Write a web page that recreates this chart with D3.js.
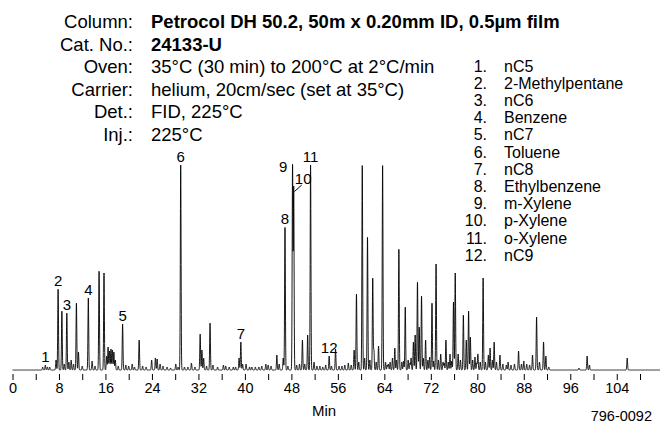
<!DOCTYPE html>
<html>
<head>
<meta charset="utf-8">
<script src="https://cdn.jsdelivr.net/npm/d3@7/dist/d3.min.js"></script>
<style>
  html, body { margin: 0; padding: 0; background: #fff; }
  svg { display: block; font-family: "Liberation Sans", Arial, Helvetica, sans-serif; }
</style>
</head>
<body>
<svg id="chart" width="660" height="424"></svg>
<script>
// ---------- DATA ----------
const headerLabels = ["Column:", "Cat. No.:", "Oven:", "Carrier:", "Det.:", "Inj.:"];
const headerValues = [
  "Petrocol DH 50.2, 50m x 0.20mm ID, 0.5\u00b5m film",
  "24133-U",
  "35\u00b0C (30 min) to 200\u00b0C at 2\u00b0C/min",
  "helium, 20cm/sec (set at 35\u00b0C)",
  "FID, 225\u00b0C",
  "225\u00b0C"
];
const headerBold = [true, true, false, false, false, false];

const legendNums = ["1.", "2.", "3.", "4.", "5.", "6.", "7.", "8.", "9.", "10.", "11.", "12."];
const legendNames = ["nC5", "2-Methylpentane", "nC6", "Benzene", "nC7", "Toluene", "nC8",
  "Ethylbenzene", "m-Xylene", "p-Xylene", "o-Xylene", "nC9"];

// retention times (min) and responses of every peak
const peakTimes = [
  5.2, 5.65, 6.0, 6.4, 7.5, 7.85, 8.5, 8.9, 9.35, 9.7, 10.1, 10.5, 11.0, 11.35, 12.0,
  13.05, 13.7, 14.2, 14.9, 15.75, 16.2, 16.45, 16.7, 16.95, 17.2, 17.45, 17.7,
  18.2, 18.95,
  19.5, 20.0, 20.6, 21.0, 21.8, 22.4, 23.0, 23.95, 24.6, 24.9, 25.4, 25.9, 26.6, 27.2,
  28.1, 28.5, 28.95, 29.6, 30.2, 30.8, 31.4, 32.3, 32.6, 32.9, 33.4, 34.0, 34.5, 35.3,
  36.3, 36.7, 37.3, 38.0, 38.4, 39.0, 39.3, 39.6, 40.2, 40.8, 41.2, 41.8, 42.4, 42.9,
  43.6, 44.0, 44.5, 45.5, 45.9, 46.6, 46.9, 47.4, 48.2, 48.4, 48.9, 49.4, 49.9, 50.3,
  50.8, 51.3, 51.9, 52.4, 52.9, 53.4, 53.9, 54.5, 54.9, 55.6, 56.2, 56.7, 57.2, 57.8,
  58.3, 58.8, 59.2, 59.6, 60.2, 60.6, 61.1, 61.5, 62.0, 62.2, 62.6, 63.0, 63.7, 64.2,
  64.5, 64.7, 65.0, 65.4, 65.8, 66.1, 66.5, 67.0, 67.3, 67.6, 68.1, 68.4, 68.6, 69.0,
  69.3, 69.7, 70.0, 70.4, 70.7, 71.1, 71.5, 71.8, 72.2, 72.5, 72.9, 73.3, 73.7, 74.1,
  74.3, 74.6, 75.0, 75.3, 75.6, 75.9, 76.2, 76.7, 77.1, 77.6, 78.1, 78.5, 78.8, 79.2,
  79.6, 79.9, 80.1, 80.5, 81.0, 81.4, 81.9, 82.2, 82.6, 82.9, 83.3, 83.9, 84.4, 85.0,
  85.3, 85.8, 86.4, 87.1, 87.6, 88.0, 88.5, 89.0, 89.5, 90.2, 90.7, 91.4, 91.8, 92.3,
  97.5, 98.9, 99.3, 105.8
];
const peakHeights = [
  3, 5, 3, 3, 10, 81, 59, 6, 57, 8, 10, 6, 67, 18, 4,
  72, 9, 4, 99, 97, 14, 23, 19, 21, 20, 18, 10,
  4, 46,
  5, 4, 6, 3, 30, 4, 3, 10, 12, 11, 6, 4, 3, 2,
  6, 3, 205, 3, 3, 7, 3, 36, 20, 12, 4, 47, 5, 3,
  5, 4, 3, 3, 3, 12, 28, 6, 6, 3, 3, 3, 3, 4,
  6, 5, 4, 15, 6, 12, 143, 4, 205, 183, 5, 6, 30, 6,
  35, 205, 8, 4, 4, 3, 5, 14, 4, 21, 4, 4, 5, 7,
  5, 20, 76, 8, 205, 12, 133, 10, 92, 20, 8, 24, 205, 8,
  5, 6, 8, 12, 22, 10, 121, 8, 9, 63, 10, 7, 12, 28,
  35, 88, 43, 74, 12, 30, 10, 13, 67, 9, 106, 10, 16, 8,
  7, 30, 8, 16, 9, 68, 97, 16, 10, 55, 30, 59, 33, 10,
  13, 7, 16, 8, 92, 8, 15, 22, 10, 28, 8, 15, 6, 5,
  8, 5, 6, 19, 6, 9, 6, 5, 15, 53, 8, 28, 14, 3,
  2, 14, 5, 12
];

// labelled compounds: label, retention time, response
const labelTexts = ["1", "2", "3", "4", "5", "6", "7", "8", "9", "10", "11", "12"];
const labelTimes = [5.65, 7.85, 9.35, 13.05, 18.95, 28.95, 39.3, 46.9, 48.2, 48.4, 51.3, 54.5];
const labelHeights = [5, 81, 57, 72, 46, 205, 28, 143, 205, 183, 205, 14];

const xTickValues = d3.range(0, 109, 4);
const xTitle = "Min";
const figureCode = "796-0092";

// ---------- LAYOUT ----------
const svg = d3.select("#chart");
const x = d3.scaleLinear().domain([0, 108]).range([12.5, 640]);
const y = d3.scaleLinear().domain([0, 205]).range([370, 165]);

// header block
const header = svg.append("g").style("font-size", "18.5px").attr("fill", "#000");
headerLabels.forEach((lab, i) => {
  const yy = 28 + i * 22.5;
  header.append("text").attr("x", 133).attr("y", yy).attr("text-anchor", "end").text(lab);
  header.append("text").attr("x", 151).attr("y", yy)
    .style("font-weight", headerBold[i] ? "bold" : "normal").text(headerValues[i]);
});

// legend
const legend = svg.append("g").style("font-size", "16px").attr("fill", "#000");
legendNums.forEach((n, i) => {
  const yy = 71.5 + i * 17.2;
  legend.append("text").attr("x", 487).attr("y", yy).attr("text-anchor", "end").text(n);
  legend.append("text").attr("x", 504).attr("y", yy).text(legendNames[i]);
});

// chromatogram trace built from the peak table
const sigma = 0.065;
const tEnd = x.invert(660);
const samples = d3.range(0, tEnd, 0.015).map(t => {
  let s = 0;
  for (let k = 0; k < peakTimes.length; k++) {
    const d = t - peakTimes[k];
    if (Math.abs(d) < 0.6) s += peakHeights[k] * Math.exp(-0.5 * (d / sigma) * (d / sigma));
  }
  return [t, s];
});
const line = d3.line().x(d => x(d[0])).y(d => y(d[1]));
svg.append("path").datum(samples)
  .attr("d", line).attr("fill", "none").attr("stroke", "#000")
  .attr("stroke-width", 0.9).attr("stroke-linejoin", "round");

// peak labels
const labelOffsets = { "9": [-9.5, 7], "10": [9.5, -3] };
const labels = svg.append("g").style("font-size", "15px").attr("fill", "#000").attr("text-anchor", "middle");
labelTexts.forEach((t, i) => {
  const off = labelOffsets[t] || [0, -3];
  labels.append("text")
    .attr("x", x(labelTimes[i]) + off[0])
    .attr("y", y(labelHeights[i]) + off[1])
    .text(t);
});
// leader for label 10
svg.append("line")
  .attr("x1", x(labelTimes[9]) + 0.8).attr("y1", y(labelHeights[9]) + 4.5)
  .attr("x2", x(labelTimes[9]) + 8).attr("y2", y(labelHeights[9]) - 2)
  .attr("stroke", "#000").attr("stroke-width", 1);

// x axis
const axis = d3.axisBottom(x)
  .tickValues(xTickValues)
  .tickSize(6)
  .tickPadding(3)
  .tickFormat(d => (d % 8 === 0 ? d : ""));
const gx = svg.append("g").attr("transform", "translate(0,374)").call(axis);
gx.select(".domain").remove();
gx.selectAll(".tick line").attr("stroke", "#000");
gx.selectAll(".tick text").attr("fill", "#000")
  .style("font-size", "14.5px").style("font-family", "'Liberation Sans', Arial, sans-serif");

svg.append("text").attr("x", 324).attr("y", 416).attr("text-anchor", "middle")
  .style("font-size", "15px").text(xTitle);
svg.append("text").attr("x", 652).attr("y", 421).attr("text-anchor", "end")
  .style("font-size", "14.5px").text(figureCode);
</script>
</body>
</html>
